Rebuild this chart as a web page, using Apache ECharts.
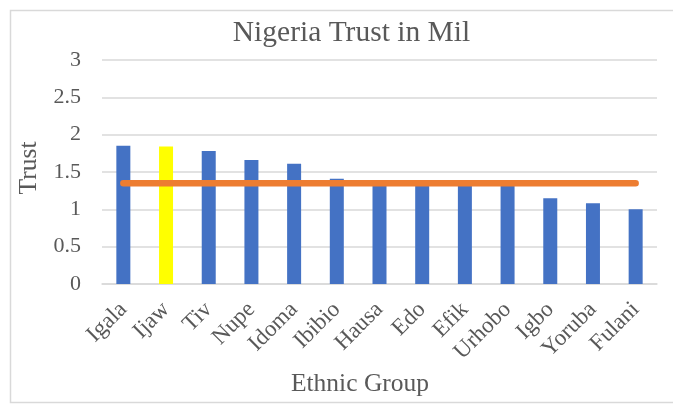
<!DOCTYPE html>
<html>
<head>
<meta charset="utf-8">
<script src="https://cdn.jsdelivr.net/npm/echarts@6/dist/echarts.min.js"></script>
<style>
html,body{margin:0;padding:0;background:#fff;}
#chart{width:673px;height:404px;}
</style>
</head>
<body>
<div id="chart"></div>
<script>
const categories = ["Igala","Ijaw","Tiv","Nupe","Idoma","Ibibio","Hausa","Edo","Efik","Urhobo","Igbo","Yoruba","Fulani"];
const trustValues = [1.85,1.84,1.78,1.66,1.61,1.41,1.38,1.35,1.34,1.33,1.15,1.08,1.00];
const averageValues = [1.35,1.35,1.35,1.35,1.35,1.35,1.35,1.35,1.35,1.35,1.35,1.35,1.35];
const highlightCategory = "Ijaw";
const yTicks = {min:0, max:3, interval:0.5};
const chartTitle = 'Nigeria Trust in Mil';
const xTitle = 'Ethnic Group';
const yTitle = 'Trust';

const FONT = '"Liberation Serif", "Times New Roman", serif';
const TXT = '#595959';
const GRID = '#d9d9d9';

const chart = echarts.init(document.getElementById('chart'), null, {renderer:'canvas'});
chart.setOption({
  backgroundColor:'#ffffff',
  animation:false,
  graphic:[
    {
      type:'rect', silent:true, z:-10,
      shape:{x:10.5, y:10.5, width:700, height:392},
      style:{fill:'#ffffff', stroke:GRID, lineWidth:1.5}
    },
    {
      type:'text', silent:true,
      x:29, y:168, rotation:Math.PI/2,
      style:{text:yTitle, font:'25.5px ' + FONT, fill:TXT, textAlign:'center', textVerticalAlign:'middle'}
    },
    {
      type:'text', silent:true,
      x:360, y:384,
      style:{text:xTitle, font:'25.5px ' + FONT, fill:TXT, textAlign:'center', textVerticalAlign:'middle'}
    }
  ],
  title:{
    text:chartTitle,
    left:351.5, textAlign:'center', top:18, padding:0,
    textStyle:{fontFamily:FONT, fontSize:29.5, fontWeight:'normal', color:TXT}
  },
  grid:{left:102, right:16, top:60, bottom:120, containLabel:false},
  xAxis:{
    type:'category',
    data:categories,
    boundaryGap:true,
    axisLine:{show:true, lineStyle:{color:GRID, width:1.5}},
    axisTick:{show:false},
    axisLabel:{rotate:45, margin:22, interval:0, fontFamily:FONT, fontSize:23, color:TXT}
  },
  yAxis:{
    type:'value',
    min:yTicks.min, max:yTicks.max, interval:yTicks.interval,
    axisLine:{show:false},
    axisTick:{show:false},
    splitLine:{show:true, lineStyle:{color:GRID, width:1.5}},
    axisLabel:{margin:21, fontFamily:FONT, fontSize:22, color:TXT}
  },
  series:[
    {
      type:'bar',
      name:'Trust',
      barWidth:14,
      data:trustValues.map((v,i)=>({
        value:v,
        itemStyle:{color: categories[i]===highlightCategory ? '#FFFF00' : '#4472C4'}
      })),
      z:2
    },
    {
      type:'line',
      name:'Average',
      data:averageValues,
      symbol:'none',
      lineStyle:{color:'#ED7D31', width:6.5, cap:'round'},
      z:3
    }
  ]
});
</script>
</body>
</html>
